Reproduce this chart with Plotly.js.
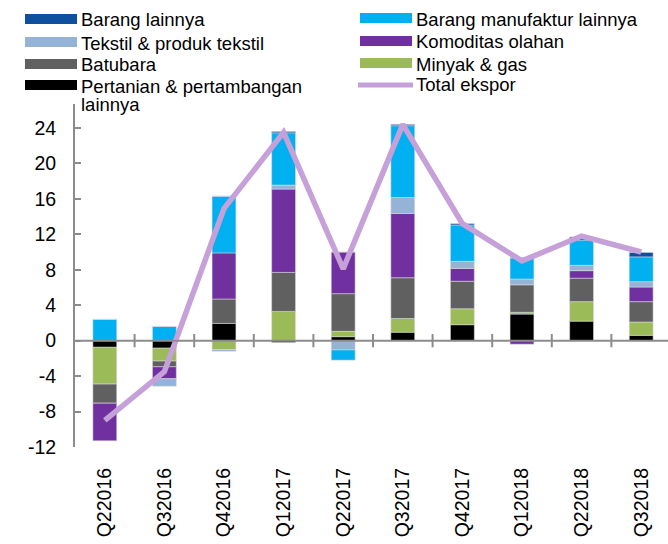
<!DOCTYPE html>
<html><head><meta charset="utf-8">
<script src="https://cdn.plot.ly/plotly-3.0.1.min.js"></script>
<style>html,body{margin:0;padding:0;background:#fff}#chart{width:668px;height:544px}</style>
</head><body><div id="chart"></div>
<script>
const categories = ['Q22016','Q32016','Q42016','Q12017','Q22017','Q32017','Q42017','Q12018','Q22018','Q32018'];
const pertanian      = [-0.75,-0.85, 1.95,-0.20, 0.45, 0.95, 1.80, 3.00, 2.20, 0.60];
const minyakGas      = [-4.15,-1.45,-1.00, 3.30, 0.60, 1.55, 1.80, 0.20, 2.20, 1.50];
const batubara       = [-2.15,-0.65, 2.75, 4.40, 4.25, 4.60, 3.10, 3.10, 2.65, 2.30];
const komoditas      = [-4.25,-1.35, 5.20, 9.40, 4.70, 7.25, 1.45,-0.40, 0.85, 1.65];
const tekstil        = [ 0.00,-0.85,-0.20, 0.45,-1.05, 1.80, 0.80, 0.65, 0.60, 0.60];
const manufaktur     = [ 2.40, 1.60, 6.40, 5.90,-1.15, 8.10, 4.10, 2.40, 2.85, 2.80];
const barangLainnya  = [ 0.00, 0.00, 0.00, 0.15, 0.00, 0.15, 0.15, 0.00, 0.35, 0.50];
const totalEkspor    = [-9.0,-3.5,14.9,23.5,8.1,24.4,13.2,9.0,11.8,10.0];
const yTickVals = [-12,-8,-4,0,4,8,12,16,20,24];
const yTickText = ['-12','-8','-4','0','4','8','12','16','20','24'];

const names = {
  pertanian:'Pertanian & pertambangan<br>lainnya', minyak:'Minyak & gas', batubara:'Batubara',
  komoditas:'Komoditas olahan', tekstil:'Tekstil & produk tekstil',
  manufaktur:'Barang manufaktur lainnya', lainnya:'Barang lainnya', total:'Total ekspor'
};
const colors = {
  pertanian:'#000000', minyak:'#9BBB59', batubara:'#606060', komoditas:'#7030A0',
  tekstil:'#95B3D7', manufaktur:'#00B0F0', lainnya:'#0F4FA0', total:'#C6A0D8'
};

const FONT = 'Liberation Sans, Arial, sans-serif';
const L = 75, T = 104, W = 593, H = 343;
const pxX = x => (x - L) / W;
const pxY = y => (T + H - y) / H;

function bar(key, vals) {
  return {type:'bar', x:categories, y:vals, name:names[key], showlegend:false,
    width:0.4, marker:{color:colors[key], line:{color:'rgba(220,220,220,0.9)', width:0.6}},
    hoverinfo:'skip'};
}
const traces = [
  bar('pertanian', pertanian), bar('minyak', minyakGas), bar('batubara', batubara),
  bar('komoditas', komoditas), bar('tekstil', tekstil), bar('manufaktur', manufaktur),
  bar('lainnya', barangLainnya),
  {type:'scatter', mode:'lines', x:categories, y:totalEkspor, name:names.total, showlegend:false,
   line:{color:colors.total, width:5.5}, hoverinfo:'skip'}
];

const shapes = [];
const annotations = [];
// zero axis line and crossing ticks
shapes.push({type:'line', xref:'paper', yref:'y', x0:0, x1:1, y0:0, y1:0, layer:'above',
  line:{color:'#8c8c8c', width:2}});
categories.forEach((c, i) => {
  shapes.push({type:'line', xref:'x', yref:'y', x0:i+0.5, x1:i+0.5, y0:-0.75, y1:0.75, layer:'above',
    line:{color:'#8c8c8c', width:2}});
});

// manual legend
const legendLeft = ['lainnya','tekstil','batubara','pertanian'];
const legendRight = ['manufaktur','komoditas','minyak','total'];
const rowY = [19, 42, 64, 85];
function legendItem(key, sx0, sx1, tx, y) {
  if (key === 'total') {
    shapes.push({type:'line', xref:'paper', yref:'paper', x0:pxX(sx0 - 2), x1:pxX(sx1 + 1), y0:pxY(y + 1), y1:pxY(y + 1),
      line:{color:colors[key], width:5}});
  } else {
    shapes.push({type:'rect', xref:'paper', yref:'paper', x0:pxX(sx0), x1:pxX(sx1), y0:pxY(y-5), y1:pxY(y+5),
      fillcolor:colors[key], line:{width:0}});
  }
  names[key].split('<br>').forEach((t, j) => {
    annotations.push({xref:'paper', yref:'paper', x:pxX(tx), y:pxY(y + 1 + j*18), text:t, showarrow:false,
      xanchor:'left', yanchor:'middle', font:{family:FONT, size:18.5, color:'#000'}});
  });
}
legendLeft.forEach((k, i) => legendItem(k, 25, 77, 79, rowY[i]));
legendRight.forEach((k, i) => legendItem(k, 360, 412, 414, rowY[i] - 1));

const layout = {
  width:668, height:544, margin:{l:L, r:668-L-W, t:T, b:544-T-H},
  paper_bgcolor:'#fff', plot_bgcolor:'rgba(0,0,0,0)',
  barmode:'relative', bargap:0.6, showlegend:false,
  font:{family:FONT, size:19, color:'#000'},
  xaxis:{type:'category', range:[-0.5, 9.45], showline:false, showgrid:false, zeroline:false,
    ticks:'', tickangle:-90, ticklabelstandoff:16, tickfont:{family:FONT, size:19.5, color:'#000'}, fixedrange:true},
  yaxis:{range:[-12, 26.7], tickmode:'array', tickvals:yTickVals, ticktext:yTickText,
    showline:true, linecolor:'#8c8c8c', linewidth:2, ticks:'inside', ticklen:6, tickwidth:2, tickcolor:'#8c8c8c',
    showgrid:false, zeroline:false, ticklabelstandoff:13, tickfont:{family:FONT, size:19.5, color:'#000'}, fixedrange:true},
  shapes, annotations
};
Plotly.newPlot('chart', traces, layout, {staticPlot:true, displayModeBar:false});
</script></body></html>
